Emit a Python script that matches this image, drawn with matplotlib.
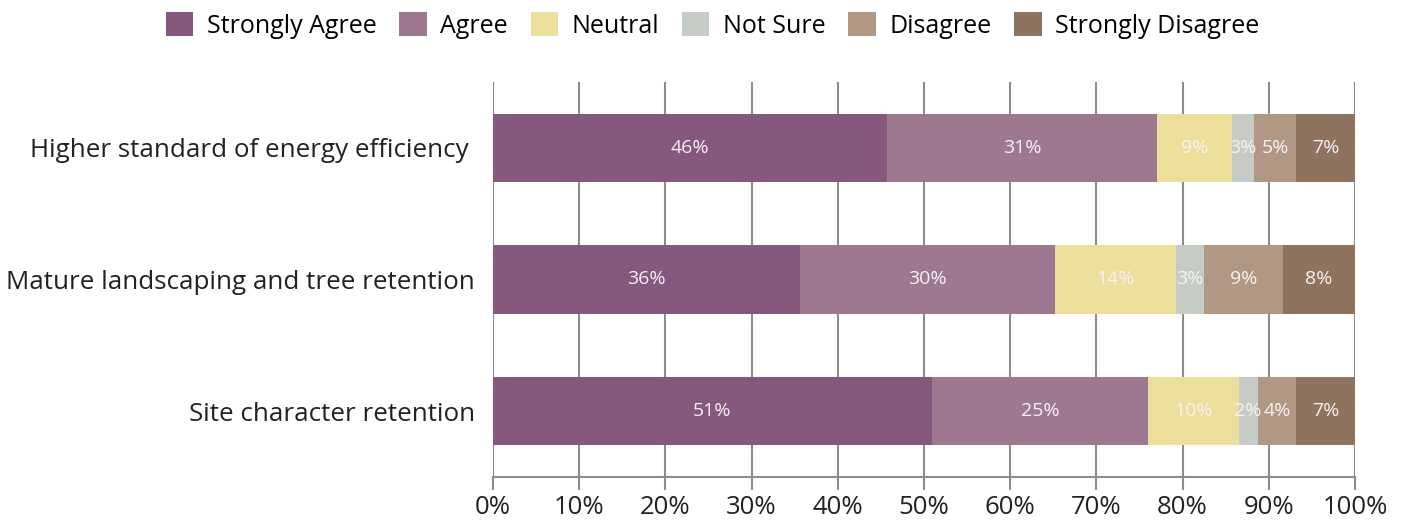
import numpy as np
import matplotlib.pyplot as plt
from matplotlib.patches import Patch

# survey statements, top to bottom
statements = ["Higher standard of energy efficiency ",
              "Mature landscaping and tree retention",
              "Site character retention"]

responses = ["Strongly Agree", "Agree", "Neutral", "Not Sure", "Disagree", "Strongly Disagree"]

# share of answers (%) per response, one value per statement
strongly_agree = [45.7, 35.6, 50.9]
agree = [31.3, 29.6, 25.1]
neutral = [8.7, 14.0, 10.5]
not_sure = [2.6, 3.3, 2.2]
disagree = [4.9, 9.1, 4.5]
strongly_disagree = [6.8, 8.4, 6.8]

colors = ["#87587d", "#9e7891", "#ebdf9b", "#c5ccc6", "#b09885", "#8e735f"]

series = [strongly_agree, agree, neutral, not_sure, disagree, strongly_disagree]

plt.rcParams['font.family'] = ['Open Sans', 'DejaVu Sans']

fig = plt.figure(figsize=(14.03, 5.2), dpi=100)
ax = fig.add_axes([0.3514, 0.0827, 0.6144, 0.7596])

y = np.arange(len(statements))
left = np.zeros(len(statements))
for vals, col in zip(series, colors):
    vals = np.array(vals)
    ax.barh(y, vals, left=left, height=0.52, color=col, zorder=3)
    for yi, (l, v) in enumerate(zip(left, vals)):
        ax.text(l + v / 2, yi, f"{v:.0f}%", ha="center", va="center",
                color="#f8f2f6", fontsize=14, zorder=4)
    left += vals

ax.set_xlim(0, 100)
ax.set_ylim(2.5, -0.5)
ax.set_xticks(np.arange(0, 101, 10))
ax.set_xticklabels([f"{t}%" for t in range(0, 101, 10)], fontsize=18.5, color="#222222")
ax.set_yticks(y)
ax.set_yticklabels(statements, fontsize=18.7, color="#222222")
ax.tick_params(axis="y", length=0, pad=13)
ax.tick_params(axis="x", length=9, width=1.5, color="#8c8c8c", pad=4)

ax.grid(axis="x", color="#8c8c8c", linewidth=1.5, zorder=0)
for s in ["top", "right", "left"]:
    ax.spines[s].set_visible(False)
ax.spines["bottom"].set_color("#8c8c8c")
ax.spines["bottom"].set_linewidth(1.5)

handles = [Patch(facecolor=c, label=r) for c, r in zip(colors, responses)]
fig.legend(handles=handles, loc="upper center", bbox_to_anchor=(0.508, 1.02), ncol=6,
           frameon=False, fontsize=18, handlelength=1.1, handleheight=1.1,
           handletextpad=0.55, columnspacing=0.9)

fig.savefig("out.png", dpi=100)
